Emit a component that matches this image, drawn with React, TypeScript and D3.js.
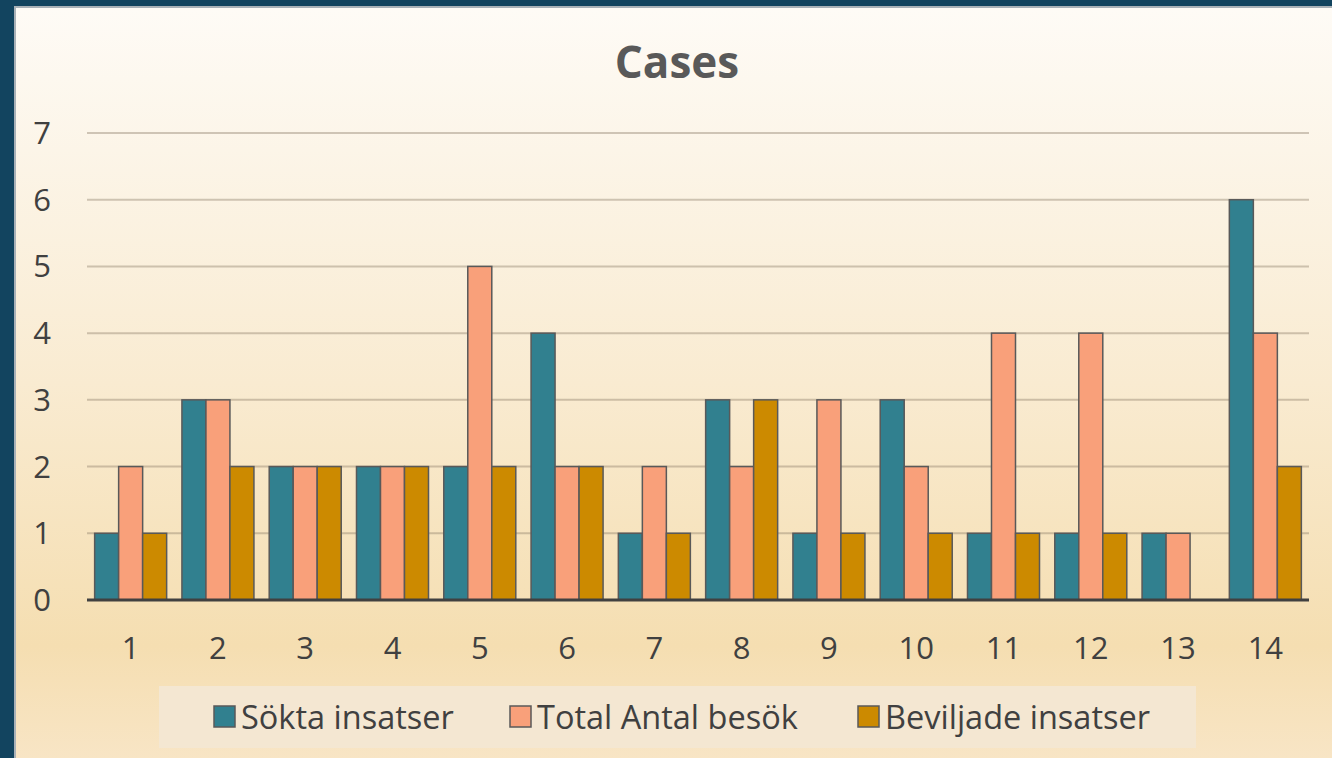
import React from "react";
import * as d3 from "d3";

const categories = ["1","2","3","4","5","6","7","8","9","10","11","12","13","14"];
const seriesNames = ["Sökta insatser", "Total Antal besök", "Beviljade insatser"];
const sokta = [1,3,2,2,2,4,1,3,1,3,1,1,1,6];
const total = [2,3,2,2,5,2,2,2,3,2,4,4,1,4];
const beviljade = [1,2,2,2,2,2,1,3,1,1,1,1,0,2];
const yTicks = [0,1,2,3,4,5,6,7];
const colors = ["#31808f", "#f9a07a", "#cc8a00"];

export default function App() {
  const W = 1332, H = 758;
  const left = 87, right = 1309, top = 133, bottom = 600;
  const x = d3.scaleBand().domain(categories).range([left, right]).paddingInner(0.175).paddingOuter(0.0875);
  const x1 = d3.scaleBand().domain(seriesNames).range([0, x.bandwidth()]);
  const y = d3.scaleLinear().domain([0, 7]).range([bottom, top]);
  const data = [sokta, total, beviljade];
  const font = "'Open Sans', 'Noto Sans', sans-serif";
  const legendItems = [
    { name: seriesNames[0], x: 214 },
    { name: seriesNames[1], x: 510 },
    { name: seriesNames[2], x: 858 },
  ];
  return (
    <svg width={W} height={H} style={{ position: "absolute", left: 0, top: 0, display: "block" }}>
      <defs>
        <linearGradient id="bg" x1="0" y1="0" x2="0" y2="1">
          <stop offset="0" stopColor="#fefbf6" />
          <stop offset="0.5" stopColor="#f9ebd1" />
          <stop offset="0.85" stopColor="#f5deb1" />
          <stop offset="1" stopColor="#f8e5c5" />
        </linearGradient>
      </defs>
      <rect x={0} y={0} width={W} height={H} fill="#12445f" />
      <rect x={14} y={6} width={W - 14} height={H - 6} fill="#a9b1b7" />
      <rect x={16} y={8} width={W - 16} height={H - 8} fill="url(#bg)" />
      <text x={677} y={78} textAnchor="middle" fontFamily={font} fontWeight="bold" fontSize={44} fill="#595959">Cases</text>
      {yTicks.map(t => (
        <g key={t}>
          {t > 0 && <line x1={left} x2={right} y1={y(t)} y2={y(t)} stroke="#8a7a66" strokeOpacity={0.4} strokeWidth={2} />}
          <text x={42} y={y(t) + 11} textAnchor="middle" fontFamily={font} fontSize={31} fill="#404040">{t}</text>
        </g>
      ))}
      {categories.map((c, i) => (
        <g key={c}>
          {data.map((s, k) => s[i] > 0 && (
            <rect key={k} x={(x(c) as number) + (x1(seriesNames[k]) as number)} y={y(s[i])}
              width={x1.bandwidth()} height={y(0) - y(s[i])} fill={colors[k]} stroke="#595959" strokeWidth={1.5} />
          ))}
          <text x={(x(c) as number) + x.bandwidth() / 2} y={659} textAnchor="middle" fontFamily={font} fontSize={31} fill="#404040">{c}</text>
        </g>
      ))}
      <line x1={left} x2={right} y1={bottom} y2={bottom} stroke="#404040" strokeWidth={3} />
      <rect x={159} y={686} width={1037} height={62} fill="#f4e7d2" />
      {legendItems.map((l, k) => (
        <g key={l.name}>
          <rect x={l.x} y={706} width={21} height={21} fill={colors[k]} stroke="#595959" strokeWidth={1.5} />
          <text x={l.x + 27} y={729} fontFamily={font} fontSize={32.5} fill="#404040">{l.name}</text>
        </g>
      ))}
    </svg>
  );
}
